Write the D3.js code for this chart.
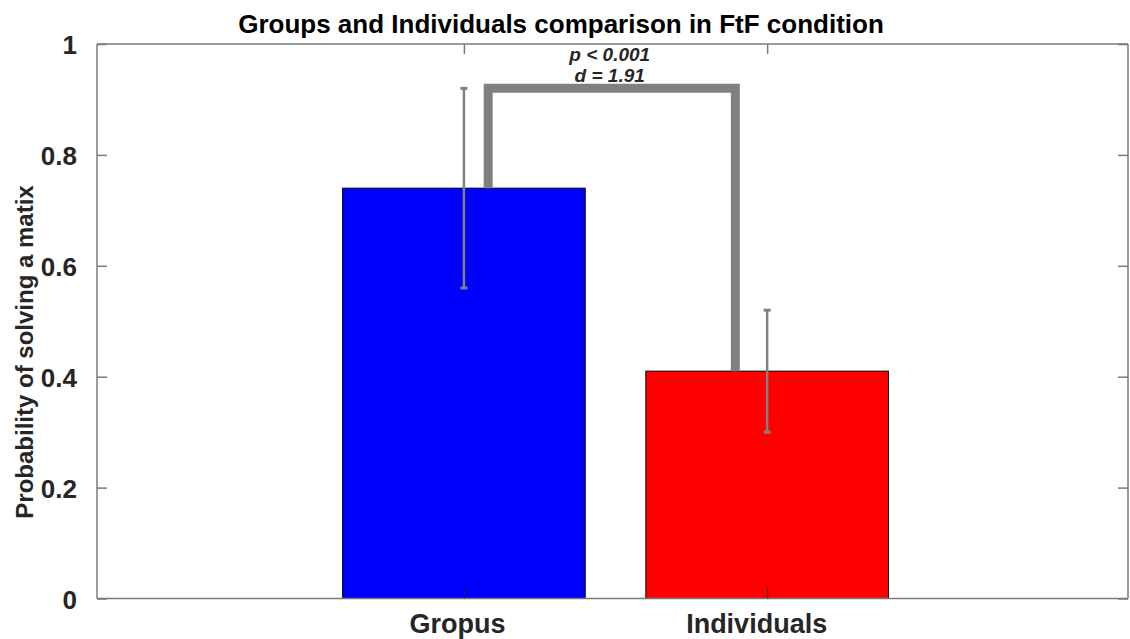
<!DOCTYPE html>
<html>
<head>
<meta charset="utf-8">
<script src="https://cdn.jsdelivr.net/npm/d3@7.9.0/dist/d3.min.js"></script>
<style>
  body { margin: 0; background: #fff; }
  text { font-family: "Liberation Sans", Arial, sans-serif; }
</style>
</head>
<body>
<svg id="chart" width="1130" height="639"></svg>
<script>
// data
const categories = ['Gropus', 'Individuals'];
const means = [0.74, 0.41];
const errLow = [0.56, 0.30];
const errHigh = [0.92, 0.52];
const barColors = ['#0000ff', '#ff0000'];
const yTicks = [0, 0.2, 0.4, 0.6, 0.8, 1];
const sigLines = ['p < 0.001', 'd = 1.91'];
const bracketX = [1.08, 1.895];
const bracketY = 0.92;

const svg = d3.select('#chart');
const mLeft = 97, mRight = 1128, mTop = 44, mBottom = 598.5;
const axisColor = '#7a7a7a';
const font = '"Liberation Sans", Arial, sans-serif';

const x = d3.scaleLinear().domain([-0.21, 3.19]).range([mLeft, mRight]);
const y = d3.scaleLinear().domain([0, 1]).range([mBottom, mTop]);
const barW = 0.8;

// bars
svg.selectAll('rect.bar')
  .data(means)
  .join('rect')
  .attr('class', 'bar')
  .attr('x', (d, i) => x(i + 1 - barW / 2))
  .attr('width', x(barW) - x(0))
  .attr('y', d => y(d))
  .attr('height', d => y(0) - y(d))
  .attr('fill', (d, i) => barColors[i])
  .attr('stroke', '#000')
  .attr('stroke-width', 1);

// significance bracket
const bracket = d3.line().x(d => x(d[0])).y(d => y(d[1]));
svg.append('path')
  .attr('d', bracket([[bracketX[0], means[0]], [bracketX[0], bracketY], [bracketX[1], bracketY], [bracketX[1], means[1]]]))
  .attr('fill', 'none')
  .attr('stroke', '#808080')
  .attr('stroke-width', 9)
  .attr('stroke-linejoin', 'miter');

// error bars
const errG = svg.append('g').attr('stroke', '#808080').attr('stroke-width', 2.5);
categories.forEach((c, i) => {
  const cx = x(i + 1);
  errG.append('line').attr('x1', cx).attr('x2', cx).attr('y1', y(errLow[i])).attr('y2', y(errHigh[i]));
  [errLow[i], errHigh[i]].forEach(v => {
    errG.append('line').attr('x1', cx - 3.5).attr('x2', cx + 3.5).attr('y1', y(v)).attr('y2', y(v)).attr('stroke-width', 3);
  });
});

// significance text
const midX = (x(bracketX[0]) + x(bracketX[1])) / 2 - 2;
sigLines.forEach((t, i) => {
  svg.append('text')
    .attr('x', midX).attr('y', 61 + i * 21)
    .attr('text-anchor', 'middle')
    .attr('font-size', 19).attr('font-weight', 'bold').attr('font-style', 'italic')
    .attr('fill', '#262626')
    .text(t);
});

// axes box
const box = svg.append('g').attr('stroke', axisColor).attr('stroke-width', 1.5).attr('fill', 'none');
box.append('line').attr('x1', mLeft).attr('x2', mLeft).attr('y1', mTop).attr('y2', mBottom);
box.append('line').attr('x1', mLeft).attr('x2', mRight).attr('y1', mBottom).attr('y2', mBottom);
box.append('line').attr('x1', mLeft).attr('x2', mRight).attr('y1', mTop).attr('y2', mTop);
box.append('line').attr('x1', mRight).attr('x2', mRight).attr('y1', mTop).attr('y2', mBottom);

// y axis (ticks inward)
const yAxis = d3.axisLeft(y).tickValues(yTicks).tickSize(-10).tickPadding(20)
  .tickFormat(d => d === 0 || d === 1 ? d3.format('d')(d) : d3.format('.1f')(d));
const gy = svg.append('g').attr('transform', `translate(${mLeft},0)`).call(yAxis);
gy.select('.domain').remove();
gy.selectAll('.tick line').attr('stroke', axisColor).attr('stroke-width', 1.5);
gy.selectAll('.tick text').attr('font-size', 26).attr('font-weight', 'bold').attr('fill', '#262626')
  .attr('font-family', font).attr('dy', '0.38em');

// right-side ticks
const gyr = svg.append('g').attr('transform', `translate(${mRight},0)`)
  .call(d3.axisRight(y).tickValues(yTicks).tickSize(-10).tickFormat(''));
gyr.select('.domain').remove();
gyr.selectAll('.tick line').attr('stroke', axisColor).attr('stroke-width', 1.5);

// x axis
const gx = svg.append('g').attr('transform', `translate(0,${mBottom})`)
  .call(d3.axisBottom(x).tickValues([1, 2]).tickSize(-10).tickFormat((d, i) => categories[i]));
gx.select('.domain').remove();
gx.selectAll('.tick line').attr('stroke', '#262626').attr('stroke-width', 1);
gx.selectAll('.tick text').attr('font-size', 27).attr('font-weight', 'bold').attr('fill', '#262626')
  .attr('font-family', font).attr('y', 34).attr('dy', 0).attr('dx', (d, i) => i === 0 ? -7 : -11);

// top ticks
const gxt = svg.append('g').attr('transform', `translate(0,${mTop})`)
  .call(d3.axisTop(x).tickValues([1, 2]).tickSize(-10).tickFormat(''));
gxt.select('.domain').remove();
gxt.selectAll('.tick line').attr('stroke', axisColor).attr('stroke-width', 1.5);

// title
svg.append('text')
  .attr('x', 561).attr('y', 33)
  .attr('text-anchor', 'middle')
  .attr('font-size', 26).attr('font-weight', 'bold').attr('fill', '#000')
  .text('Groups and Individuals comparison in FtF condition');

// y label
svg.append('text')
  .attr('transform', `translate(33,352) rotate(-90)`)
  .attr('text-anchor', 'middle')
  .attr('font-size', 24).attr('font-weight', 'bold').attr('fill', '#262626')
  .text('Probability of solving a matix');
</script>
</body>
</html>
